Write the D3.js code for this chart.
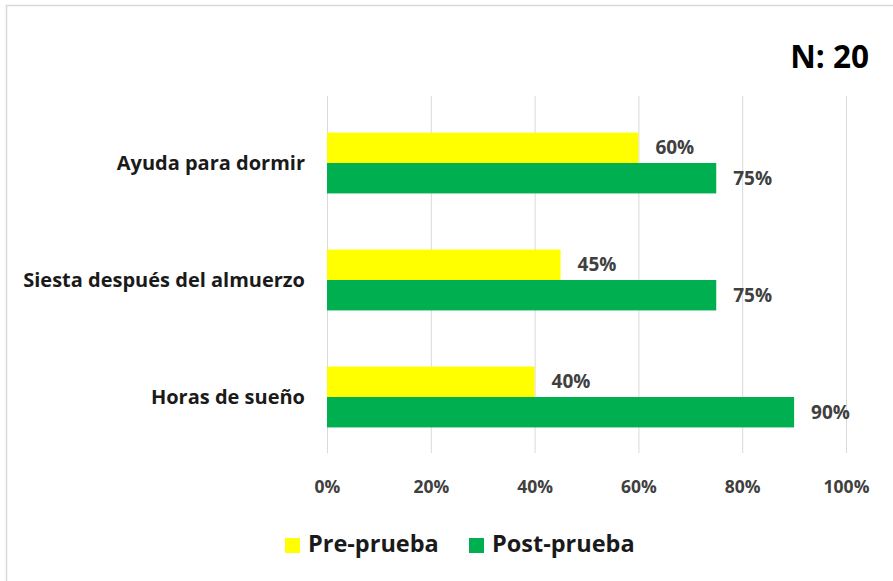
<!DOCTYPE html>
<html><head><meta charset="utf-8">
<script src="https://cdn.jsdelivr.net/npm/d3@7"></script>
<style>body{margin:0;background:#fff;}text{font-family:"Open Sans",sans-serif;font-weight:700;}</style>
</head><body>
<svg id="c" width="893" height="581"></svg>
<script>
const categories = ["Ayuda para dormir", "Siesta después del almuerzo", "Horas de sueño"];
const seriesNames = ["Pre-prueba", "Post-prueba"];
const preValues = [60, 45, 40];
const postValues = [75, 75, 90];
const tickValues = [0, 20, 40, 60, 80, 100];
const colors = ["#FFFF00", "#00B050"];
const title = "N: 20";

const svg = d3.select("#c");
// frame
svg.append("line").attr("x1",6).attr("x2",893).attr("y1",5.5).attr("y2",5.5).attr("stroke","#d9d9d9").attr("stroke-width",1.5);
svg.append("line").attr("x1",6.5).attr("x2",6.5).attr("y1",5).attr("y2",581).attr("stroke","#d9d9d9").attr("stroke-width",1.5);

const x = d3.scaleLinear().domain([0,100]).range([327,846]);
const y = d3.scaleBand().domain(categories).range([104.5,455.5]).paddingInner(0.48).paddingOuter(0.24);
const ys = d3.scaleBand().domain(seriesNames).range([0,y.bandwidth()]);

// gridlines
svg.append("g").selectAll("line").data(tickValues).join("line")
  .attr("x1",d=>x(d)+0.5).attr("x2",d=>x(d)+0.5).attr("y1",96).attr("y2",453)
  .attr("stroke","#d9d9d9").attr("stroke-width",1);

// axis labels
const xAxis = d3.axisBottom(x).tickValues(tickValues).tickFormat(d=>d+"%").tickSize(0).tickPadding(0);
const gx = svg.append("g").attr("transform","translate(0,480.5)").call(xAxis);
gx.select(".domain").remove();
gx.selectAll("text").attr("font-size",17.5).attr("fill","#404040").style("font-family","'Open Sans',sans-serif").style("font-weight",700);

const yAxis = d3.axisLeft(y).tickSize(0).tickPadding(22);
const gy = svg.append("g").attr("transform","translate(327,0)").call(yAxis);
gy.select(".domain").remove();
gy.selectAll("text").attr("font-size",20).attr("fill","#1a1a1a").style("font-family","'Open Sans',sans-serif").style("font-weight",700).attr("dy","0.35em");

const data = categories.map((c,i)=>({cat:c, vals:[{s:seriesNames[0],v:preValues[i],c:colors[0]},{s:seriesNames[1],v:postValues[i],c:colors[1]}]}));
const groups = svg.append("g").selectAll("g").data(data).join("g").attr("transform",d=>`translate(0,${y(d.cat)})`);
groups.selectAll("rect").data(d=>d.vals).join("rect")
  .attr("x",x(0)).attr("y",d=>ys(d.s)).attr("width",d=>x(d.v)-x(0)).attr("height",ys.bandwidth()).attr("fill",d=>d.c);
groups.selectAll("text").data(d=>d.vals).join("text")
  .attr("x",d=>x(d.v)+17).attr("y",d=>ys(d.s)+ys.bandwidth()/2).attr("dy","0.35em")
  .attr("font-size",19).attr("fill","#404040").text(d=>d.v+"%");

// title
svg.append("text").attr("x",869).attr("y",68).attr("text-anchor","end").attr("font-size",31.5).attr("fill","#000").text(title);

// legend
const leg = svg.append("g").attr("transform","translate(285,538)");
const items = leg.selectAll("g").data(seriesNames).join("g").attr("transform",(d,i)=>`translate(${i*184},0)`);
items.append("rect").attr("width",15).attr("height",15).attr("fill",(d,i)=>colors[i]);
items.append("text").attr("x",23).attr("y",14).attr("font-size",23.5).attr("fill","#1a1a1a").text(d=>d);
</script>
</body></html>
